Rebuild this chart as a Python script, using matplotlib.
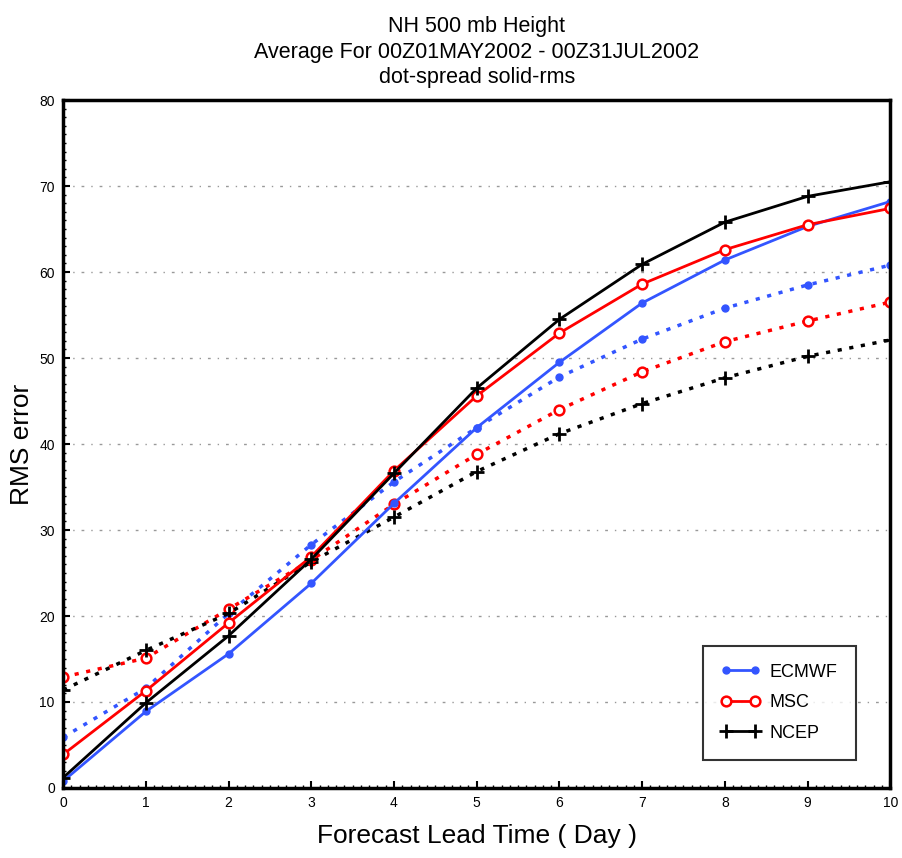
import matplotlib
matplotlib.use('Agg')
import matplotlib.pyplot as plt
from matplotlib.ticker import MultipleLocator

days = [0, 1, 2, 3, 4, 5, 6, 7, 8, 9, 10]

# solid = rms, dotted = spread
ecmwf_rms = [0.8, 8.9, 15.6, 23.8, 33.1, 41.9, 49.5, 56.4, 61.4, 65.3, 68.2]
ecmwf_spread = [5.9, 11.6, 20.3, 28.3, 35.6, 41.9, 47.8, 52.2, 55.8, 58.5, 60.8]
msc_rms = [3.9, 11.3, 19.2, 26.9, 36.9, 45.6, 52.9, 58.6, 62.6, 65.5, 67.4]
msc_spread = [12.9, 15.1, 20.8, 26.5, 33.0, 38.8, 44.0, 48.4, 51.9, 54.3, 56.5]
ncep_rms = [1.2, 9.9, 17.7, 26.6, 36.6, 46.5, 54.5, 60.9, 65.8, 68.8, 70.5]
ncep_spread = [11.4, 16.0, 20.3, 26.3, 31.5, 36.8, 41.2, 44.7, 47.7, 50.2, 52.1]

blue = '#3355ff'
red = '#ff0000'
black = '#000000'
dotted = (0, (1.2, 2.2))

plt.rcParams['font.family'] = ['Liberation Sans', 'DejaVu Sans']

fig = plt.figure(figsize=(9.02, 8.58), dpi=100)
ax = fig.add_axes([0.070, 0.0816, 0.917, 0.8018])

ax.plot(days, ecmwf_spread, color=blue, linestyle=dotted, lw=2.5, marker='o', ms=5)
ax.plot(days, msc_spread, color=red, linestyle=dotted, lw=2.5, marker='o', ms=7,
        mfc='white', mew=1.8)
ax.plot(days, ncep_spread, color=black, linestyle=dotted, lw=2.5, marker='+', ms=10, mew=2)

ax.plot(days, ecmwf_rms, color=blue, lw=2, marker='o', ms=5, label='ECMWF')
ax.plot(days, msc_rms, color=red, lw=2, marker='o', ms=7, mfc='white', mew=1.8, label='MSC')
ax.plot(days, ncep_rms, color=black, lw=2, marker='+', ms=10, mew=2, label='NCEP')

ax.set_xlim(0, 10)
ax.set_ylim(0, 80)
ax.xaxis.set_major_locator(MultipleLocator(1))
ax.yaxis.set_major_locator(MultipleLocator(10))
ax.xaxis.set_minor_locator(MultipleLocator(0.1))
ax.yaxis.set_minor_locator(MultipleLocator(1))
ax.tick_params(which='major', direction='in', length=5, width=1.5, labelsize=10, pad=6)
ax.tick_params(which='minor', direction='in', length=2.5, width=1)

for y in range(10, 80, 10):
    ax.axhline(y, color='#999999', lw=1, linestyle=(0, (2, 5, 1, 5)), zorder=0)

for s in ax.spines.values():
    s.set_linewidth(2.5)

ax.set_xlabel('Forecast Lead Time ( Day )', fontsize=19, labelpad=10)
ax.set_ylabel('RMS error', fontsize=19, labelpad=4)
ax.set_title('NH 500 mb Height\nAverage For 00Z01MAY2002 - 00Z31JUL2002\ndot-spread solid-rms',
             fontsize=15.5, linespacing=1.3, pad=12)

leg = ax.legend(loc='lower right', bbox_to_anchor=(0.958, 0.041), fontsize=13,
                numpoints=2, handlelength=2.2, frameon=True, fancybox=False,
                borderpad=1.0, labelspacing=0.75, handletextpad=0.5,
                borderaxespad=0)
leg.get_frame().set_edgecolor('black')
leg.get_frame().set_linewidth(1.5)

fig.savefig('out.png', dpi=100)
